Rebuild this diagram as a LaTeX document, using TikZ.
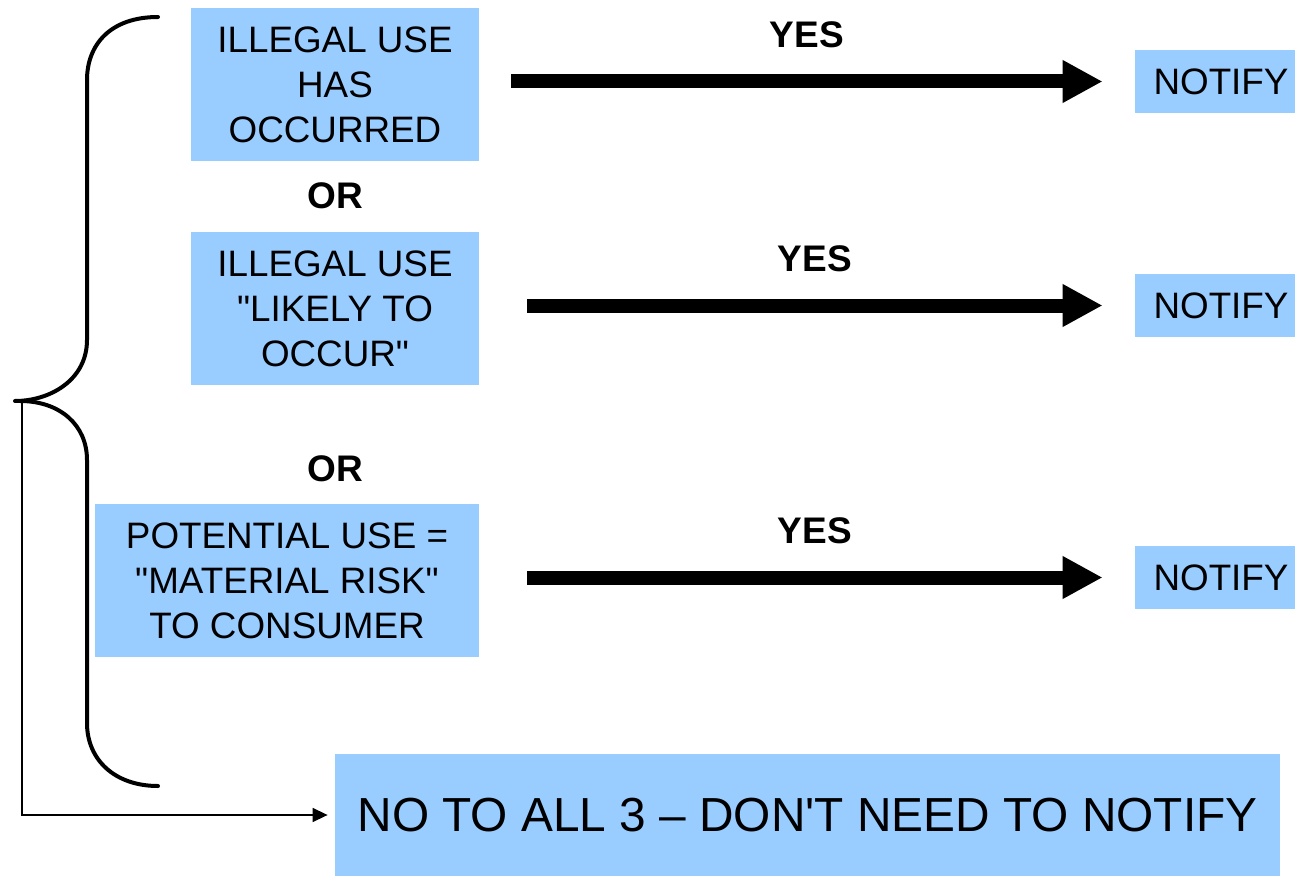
\documentclass[tikz,border=0pt]{standalone}
\usepackage{fontspec}
\setmainfont{Liberation Sans}
\usetikzlibrary{positioning,arrows.meta}

\definecolor{boxblue}{RGB}{153,204,255}

\tikzset{
  box/.style={fill=boxblue, inner sep=0pt, align=center,
    font=\fontsize{18.4}{22.5}\selectfont},
  notifybox/.style={box, minimum width=86pt, minimum height=31.5pt},
  label/.style={inner sep=0pt, font=\fontsize{18.5}{22.5}\selectfont\bfseries},
  bigarrow/.style={line width=7pt, -{Triangle[length=20pt,width=20pt]}, shorten >=16pt},
  thinarrow/.style={line width=0.75pt, -{Triangle[length=7.5pt,width=7pt]}, shorten >=3.5pt},
  brace/.style={line width=2pt, line cap=round}
}

\begin{document}
\begin{tikzpicture}[x=0.5pt,y=-0.5pt]
\useasboundingbox (0,0) rectangle (1295,877);
% Nodes
\node(box1)[box, minimum width=144pt, minimum height=76.5pt] at (335,84.5)
  {ILLEGAL USE\\HAS\\OCCURRED};
\node(box2)[box, minimum width=144pt, minimum height=76.5pt] at (335,308.5)
  {ILLEGAL USE\\\textquotedbl LIKELY TO\\OCCUR\textquotedbl};
\node(box3)[box, minimum width=192pt, minimum height=76.5pt] at (287,580.5)
  {POTENTIAL USE =\\\textquotedbl MATERIAL RISK\textquotedbl\\TO CONSUMER};
\node(or1)[label, below = 10.5pt of box1]{OR};
\node(or2)[label, below = 34.75pt of box2]{OR};
\node(n1)[notifybox] at (1221,81.5){NOTIFY};
\node(n2)[notifybox] at (1221,305.5){NOTIFY};
\node(n3)[notifybox] at (1221,577.5){NOTIFY};
\node(none)[box, minimum width=472.5pt, minimum height=61pt,
  font=\fontsize{23.9}{29}\selectfont] at (807.5,815)
  {NO TO ALL 3 -- DON\textquotesingle T NEED TO NOTIFY};
\coordinate(fork) at (22,401);
% Brace
\draw[brace] (158,17) .. controls (110,17) and (87,45) .. (87,80)
  -- (87,340) .. controls (87,380) and (50,401) .. (15,401);
\draw[brace] (20,401) .. controls (60,401) and (87,425) .. (87,460)
  -- (87,723) .. controls (87,760) and (115,786) .. (158,786);
% Arcs
\draw[bigarrow, shorten <=16pt] (box1.east |- n1.west) -- (n1.west)
  node[label, midway, above=13.5pt]{YES};
\draw[bigarrow, shorten <=24pt] (box2.east |- n2.west) -- (n2.west)
  node[label, midway, above=13.5pt, xshift=4pt]{YES};
\draw[bigarrow, shorten <=24pt] (box3.east |- n3.west) -- (n3.west)
  node[label, midway, above=13.5pt, xshift=4pt]{YES};
\draw[thinarrow] (fork) |- (none.west);
\end{tikzpicture}
\end{document}
